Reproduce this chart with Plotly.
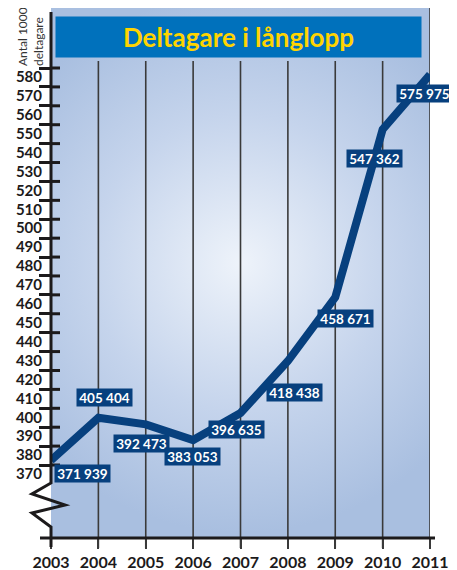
import base64
import plotly.graph_objects as go

# ---------------- data ----------------
years = [2003, 2004, 2005, 2006, 2007, 2008, 2009, 2010, 2011]
# line positions as drawn in the picture (in thousands)
line_values = [372.5, 395.0, 391.5, 383.2, 397.5, 425.0, 458.7, 547.5, 576.5]
# printed value labels
value_labels = ["371 939", "405 404", "392 473", "383 053", "396 635",
                "418 438", "458 671", "547 362", "575 975"]
y_ticks = list(range(370, 590, 10))
x_tick_labels = [str(y) for y in years]
title_text = "Deltagare i långlopp"
axis_title = "Antal 1000<br>deltagare"

# ---------------- geometry helpers ----------------
OFF = 8  # page body margin
WIN_W, WIN_H = 457, 570
W, H = WIN_W - OFF, WIN_H - OFF
# plot area in window pixels
L, R, T, B = 51, 430, 8, 538
PW, PH = R - L, B - T


def px_x(px):
    return (px - L) / PW


def px_y(py):
    return (B - py) / PH


FONT = "Lato"
DARK = "#1c1a1b"
NAVY = "#07407e"

# label offsets (pixels) relative to each point
label_dx = [31, 6, -4, -1, -4, 7, 10, -8, -6]
label_dy = [-13, 20, -19, -16, -16, -31, -21, -29, -19]

fig = go.Figure()

fig.add_trace(go.Scatter(
    x=years, y=line_values, mode="lines",
    line=dict(color=NAVY, width=8),
    hoverinfo="skip", showlegend=False,
))

# radial gradient background
svg = (
    '<svg xmlns="http://www.w3.org/2000/svg" width="%d" height="%d" preserveAspectRatio="none">'
    '<defs><radialGradient id="g" gradientUnits="userSpaceOnUse" cx="%d" cy="%d" r="270">'
    '<stop offset="0" stop-color="#EEF3FA"/><stop offset="0.55" stop-color="#C5D4EC"/>'
    '<stop offset="1" stop-color="#A9BFE0"/></radialGradient></defs>'
    '<rect width="%d" height="%d" fill="url(#g)"/></svg>'
) % (PW, PH, 190, 255, PW, PH)
src = "data:image/svg+xml;base64," + base64.b64encode(svg.encode()).decode()

shapes = []
# vertical grid lines
for yr in years[1:]:
    top = T if yr == years[-1] else 61
    shapes.append(dict(type="line", xref="x", yref="paper", x0=yr, x1=yr,
                       y0=px_y(548), y1=px_y(top),
                       line=dict(color="#3a3a3a", width=1.6), layer="below"))

# y axis with zigzag break
pts = [(51, 12), (51, 483), (32, 494), (65, 505), (32, 513), (51, 527), (51, 547)]
path = "M " + " L ".join("%f,%f" % (px_x(a), px_y(b)) for a, b in pts)
shapes.append(dict(type="path", xref="paper", yref="paper", path=path,
                   line=dict(color=DARK, width=3)))
# x axis line
shapes.append(dict(type="line", xref="paper", yref="paper",
                   x0=px_x(40), x1=px_x(435), y0=0, y1=0,
                   line=dict(color=DARK, width=3)))
# inner part of y ticks
for v in y_ticks:
    shapes.append(dict(type="line", xref="paper", yref="y",
                       x0=0, x1=px_x(60), y0=v, y1=v,
                       line=dict(color=DARK, width=3)))

annotations = []
# title banner
annotations.append(dict(
    xref="paper", yref="paper", x=px_x(238.5), y=px_y(37),
    xanchor="center", yanchor="middle", showarrow=False,
    text=title_text, width=363, height=38, bgcolor="#0071bc",
    font=dict(family=FONT, size=26, color="#ffd400", weight="bold"),
))
# axis title
annotations.append(dict(
    xref="paper", yref="paper", x=px_x(31), y=px_y(37),
    xanchor="center", yanchor="middle", showarrow=False,
    text=axis_title, textangle=-90, align="left",
    font=dict(family=FONT, size=12, color="#333333"),
))
# value labels
for yr, v, lab, dx, dy in zip(years, line_values, value_labels, label_dx, label_dy):
    annotations.append(dict(
        x=yr, y=v, xref="x", yref="y", showarrow=False,
        xshift=dx, yshift=dy, text=lab,
        bgcolor=NAVY, width=55, height=17, borderpad=0,
        font=dict(family=FONT, size=13.5, color="white", weight="bold"),
    ))

fig.update_layout(
    width=W, height=H,
    margin=dict(l=L - OFF, r=WIN_W - R, t=T - OFF, b=WIN_H - B, autoexpand=False),
    paper_bgcolor="white", plot_bgcolor="#aec3e3",
    showlegend=False,
    shapes=shapes, annotations=annotations,
    images=[dict(source=src, xref="paper", yref="paper", x=0, y=1,
                 sizex=1, sizey=1, sizing="stretch",
                 xanchor="left", yanchor="top", layer="below")],
    xaxis=dict(range=[2003, 2011], tickvals=years, ticktext=x_tick_labels,
               showgrid=False, zeroline=False, showline=False, automargin=False,
               ticks="outside", ticklen=10, tickwidth=1.6, tickcolor="#3a3a3a",
               ticklabelstandoff=0,
               tickfont=dict(family=FONT, size=16, color=DARK, weight="bold"),
               fixedrange=True),
    yaxis=dict(range=[331.39, 611.74], tickvals=y_ticks,
               showgrid=False, zeroline=False, showline=False, automargin=False,
               ticks="outside", ticklen=11, tickwidth=3, tickcolor=DARK,
               ticklabelshift=9, ticklabelstandoff=-6,
               tickfont=dict(family=FONT, size=15, color=DARK, weight="bold"),
               fixedrange=True),
)

fig.write_html("out.html")
